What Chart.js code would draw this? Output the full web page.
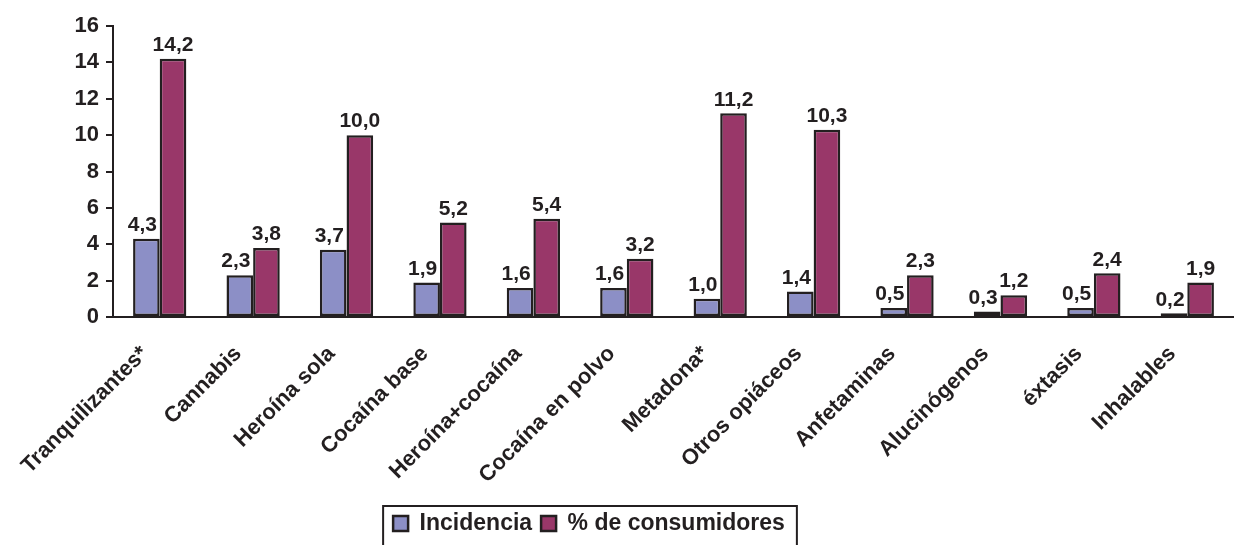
<!DOCTYPE html>
<html>
<head>
<meta charset="utf-8">
<script src="https://cdn.jsdelivr.net/npm/chart.js@4.4.1/dist/chart.umd.min.js"></script>
<style>
  html, body { margin: 0; padding: 0; background: #fff; }
  #wrap { width: 1234px; height: 545px; }
</style>
</head>
<body>
<div id="wrap"><canvas id="chart" width="1234" height="545"></canvas></div>
<script>
const categories = ['Tranquilizantes*', 'Cannabis', 'Heroína sola', 'Cocaína base', 'Heroína+cocaína',
  'Cocaína en polvo', 'Metadona*', 'Otros opiáceos', 'Anfetaminas', 'Alucinógenos', 'éxtasis', 'Inhalables'];
const incidencia = [4.3, 2.3, 3.7, 1.9, 1.6, 1.6, 1.0, 1.4, 0.5, 0.3, 0.5, 0.2];
const consumidores = [14.2, 3.8, 10.0, 5.2, 5.4, 3.2, 11.2, 10.3, 2.3, 1.2, 2.4, 1.9];
const yTicks = [0, 2, 4, 6, 8, 10, 12, 14, 16];

const FONT = '"Liberation Sans", Arial, sans-serif';
const INK = '#231f20';

// valores encima de cada barra
const valueLabels = {
  id: 'valueLabels',
  afterDatasetsDraw(chart) {
    const ctx = chart.ctx;
    ctx.save();
    ctx.font = 'bold 21px ' + FONT;
    ctx.fillStyle = INK;
    ctx.textAlign = 'center';
    ctx.textBaseline = 'bottom';
    chart.data.datasets.forEach((ds, i) => {
      chart.getDatasetMeta(i).data.forEach((bar, j) => {
        const txt = ds.data[j].toFixed(1).replace('.', ',');
        ctx.fillText(txt, bar.x - (i === 0 ? 4 : 0), bar.y - 3);
      });
    });
    ctx.restore();
  }
};

// leyenda algo a la izquierda del centro, con marco
const legendFrame = {
  id: 'legendFrame',
  afterLayout(chart) {
    if (chart.legend) chart.legend.right -= 56;
  },
  afterDraw(chart) {
    const lg = chart.legend;
    if (!lg || !lg.legendHitBoxes.length) return;
    const boxes = lg.legendHitBoxes;
    const left = Math.min(...boxes.map(b => b.left)) - 10;
    const right = Math.max(...boxes.map(b => b.left + b.width)) + 12;
    const ctx = chart.ctx;
    ctx.save();
    ctx.strokeStyle = INK;
    ctx.lineWidth = 2;
    ctx.strokeRect(left, lg.top + 3, right - left, 60);
    ctx.restore();
  }
};

new Chart(document.getElementById('chart'), {
  type: 'bar',
  data: {
    labels: categories,
    datasets: [{
      label: 'Incidencia',
      data: incidencia,
      backgroundColor: '#8c8fc6',
      borderColor: INK,
      borderWidth: 2.5,
      borderSkipped: false,
      categoryPercentage: 0.57,
      barPercentage: 1.0
    }, {
      label: '% de consumidores',
      data: consumidores,
      backgroundColor: '#993769',
      borderColor: INK,
      borderWidth: 2.5,
      borderSkipped: false,
      categoryPercentage: 0.57,
      barPercentage: 1.0
    }]
  },
  options: {
    responsive: false,
    animation: false,
    layout: { padding: { top: 26, right: 0, left: 0, bottom: 0 } },
    plugins: {
      legend: {
        position: 'bottom',
        labels: {
          font: { family: FONT, size: 23, weight: 'bold' },
          color: INK,
          boxWidth: 15,
          boxHeight: 15,
          padding: 9
        }
      },
      tooltip: { enabled: false }
    },
    scales: {
      x: {
        afterFit(axis) { axis.height = 186; },
        grid: { display: false, drawTicks: false },
        border: { display: true, color: INK, width: 2 },
        ticks: {
          minRotation: 45,
          maxRotation: 45,
          padding: 24,
          labelOffset: -15,
          color: INK,
          font: { family: FONT, size: 22, weight: 'bold' }
        }
      },
      y: {
        min: 0,
        max: 16,
        afterBuildTicks(axis) { axis.ticks = yTicks.map(v => ({ value: v })); },
        afterFit(axis) { axis.width = 113; },
        grid: { display: true, drawOnChartArea: false, drawTicks: true, tickLength: 7, color: INK, lineWidth: 2 },
        border: { display: true, color: INK, width: 2 },
        ticks: {
          padding: 7,
          color: INK,
          font: { family: FONT, size: 22, weight: 'bold' }
        }
      }
    }
  },
  plugins: [valueLabels, legendFrame]
});
</script>
</body>
</html>
